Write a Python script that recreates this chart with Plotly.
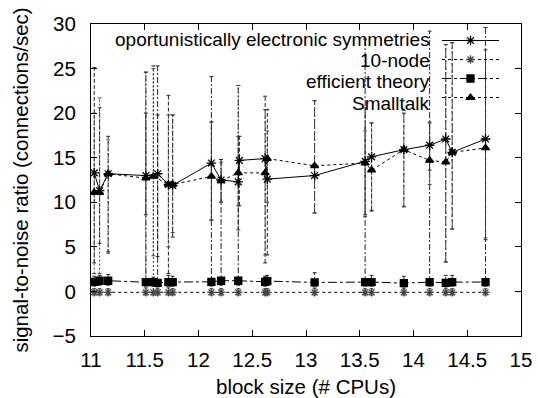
import plotly.graph_objects as go

# ---------------- data ----------------
series_names = ["oportunistically electronic symmetries", "10-node", "efficient theory", "Smalltalk"]

# series 1 (solid)
x1 = [11.03, 11.08, 11.16, 11.51, 11.62, 11.72, 11.76, 12.12, 12.21, 12.37, 12.38, 12.62, 12.64,
      13.08, 13.55, 13.61, 13.91, 14.15, 14.30, 14.36, 14.67]
y1 = [13.3, 11.3, 13.2, 13.0, 13.2, 12.0, 11.9, 14.4, 12.5, 12.3, 14.7, 14.9, 12.6,
      13.0, 14.6, 15.1, 15.9, 16.4, 17.1, 15.6, 17.1]
lo1 = [3.2, 5.4, 4.3, 8.6, 3.9, 2.0, 6.1, 8.0, 10.0, 6.9, 9.6, 3.2, 4.1,
       8.8, 8.6, 9.1, 9.5, 13.6, 3.3, 7.0, 5.8]
hi1 = [25.1, 20.6, 17.4, 20.0, 19.8, 22.0, 19.8, 19.0, 14.8, 17.4, 17.4, 21.9, 20.4,
       21.4, 20.6, 18.9, 20.0, 18.9, 27.7, 27.9, 27.1]

# shared x for the two low series
x_low = [11.03, 11.08, 11.16, 11.51, 11.58, 11.62, 11.72, 11.76, 12.12, 12.21, 12.37, 12.62, 12.64,
         13.08, 13.55, 13.61, 13.91, 14.15, 14.30, 14.36, 14.67]

# series 2 (dotted, around 0)
y2 = [-0.1, -0.1, -0.1, -0.1, -0.1, -0.1, -0.1, -0.1, -0.1, -0.1, -0.1, -0.1, -0.1,
      -0.1, -0.1, -0.1, -0.1, -0.1, -0.1, -0.1, -0.1]
lo2 = [-0.4] * 21
hi2 = [0.3, 0.3, 0.3, 0.4, 25.3, 0.3, 0.4, 0.3, 0.3, 0.3, 0.3, 0.3, 0.3,
       0.3, 0.3, 0.3, 0.3, 0.3, 0.3, 0.3, 0.3]

# series 3 (dash-dot, around 1)
y3 = [1.08, 1.2, 1.2, 1.05, 1.05, 0.97, 1.05, 1.05, 1.08, 1.2, 1.2, 1.08, 1.16,
      1.01, 1.05, 1.05, 0.93, 1.05, 0.97, 1.05, 1.05]
lo3 = [0.6, 0.7, 0.7, 0.6, 0.6, 0.5, 0.6, 0.6, 0.6, 0.7, 0.7, 0.6, 0.7,
       0.5, 0.6, 0.6, 0.5, 0.6, 0.5, 0.6, 0.6]
hi3 = [1.7, 1.8, 1.9, 24.6, 1.6, 25.3, 1.8, 1.7, 24.1, 14.8, 23.1, 1.7, 1.8,
       2.1, 28.3, 1.8, 1.7, 29.2, 1.8, 1.8, 29.6]

# series 4 (dotted, upper)
x4 = [11.03, 11.08, 11.16, 11.51, 11.58, 11.72, 11.76, 12.12, 12.21, 12.37, 12.62, 12.64,
      13.08, 13.55, 13.61, 13.91, 14.15, 14.30, 14.36, 14.67]
y4 = [11.1, 11.1, 13.2, 12.7, 12.9, 12.0, 12.0, 12.9, 12.4, 13.3, 13.3, 14.9,
      14.1, 14.4, 13.6, 15.9, 14.7, 14.5, 15.6, 16.1]
lo4 = [2.0, 2.0, 4.5, 1.2, 4.0, 5.0, 6.6, 8.0, 10.0, 9.6, 4.1, 10.0,
       8.8, 8.4, 9.0, 9.5, 12.0, 3.3, 7.0, 6.0]
hi4 = [20.0, 21.7, 17.0, 24.6, 25.0, 19.8, 19.8, 19.0, 14.5, 23.1, 20.4, 18.0,
       21.4, 18.0, 18.9, 20.3, 19.0, 27.7, 27.9, 29.6]

x_ticks = [11, 11.5, 12, 12.5, 13, 13.5, 14, 14.5, 15]
x_tick_labels = ["11", "11.5", "12", "12.5", "13", "13.5", "14", "14.5", "15"]
y_ticks = [-5, 0, 5, 10, 15, 20, 25, 30]

FONT = "Liberation Sans, Arial, Helvetica, sans-serif"
FS = 20.5
LEG_FS = 19
CAP = 0.018  # half-width of error-bar caps, in x units

styles = [
    dict(dash="solid", symbol="asterisk-open", msize=8, mcolor="black",
         edash="4px,2px", ecolor="#222"),
    dict(dash="dot", symbol="asterisk-open", msize=7, mcolor="#444",
         edash="2px,2px", ecolor="#333"),
    dict(dash="dashdot", symbol="square", msize=7, mcolor="black",
         edash="6px,2px,2px,2px", ecolor="#222"),
    dict(dash="dot", symbol="triangle-up", msize=7, mcolor="black",
         edash="2px,2px", ecolor="#444"),
]
data = [(x1, y1, lo1, hi1), (x_low, y2, lo2, hi2), (x_low, y3, lo3, hi3), (x4, y4, lo4, hi4)]

fig = go.Figure()

# error bars (dashed, like the original)
for name, st, (xs, ys, lo, hi) in zip(series_names, styles, data):
    bx, by, cx, cy = [], [], [], []
    for x, l, h in zip(xs, lo, hi):
        bx += [x, x, None]
        by += [l, h, None]
        cx += [x - CAP, x + CAP, None, x - CAP, x + CAP, None]
        cy += [l, l, None, h, h, None]
    fig.add_trace(go.Scatter(x=bx, y=by, mode="lines", showlegend=False, hoverinfo="skip",
                             line=dict(color=st["ecolor"], width=1, dash=st["edash"])))
    fig.add_trace(go.Scatter(x=cx, y=cy, mode="lines", showlegend=False, hoverinfo="skip",
                             line=dict(color=st["ecolor"], width=1)))

for name, st, (xs, ys, lo, hi) in zip(series_names, styles, data):
    fig.add_trace(go.Scatter(
        x=xs, y=ys, name=name, mode="lines+markers", showlegend=False,
        line=dict(color="black", width=1, dash=st["dash"]),
        marker=dict(symbol=st["symbol"], size=st["msize"], color=st["mcolor"],
                    line=dict(color=st["mcolor"], width=1.3)),
    ))

# legend samples (text drawn right-aligned beside them, as in the original)
for name, st in zip(series_names, styles):
    fig.add_trace(go.Scatter(
        x=[None], y=[None], name=" ", mode="lines+markers", showlegend=True,
        line=dict(color="black", width=1, dash=st["dash"]),
        marker=dict(symbol=st["symbol"], size=st["msize"], color=st["mcolor"],
                    line=dict(color=st["mcolor"], width=1.3)),
    ))

L, R, T, B = 91, 17, 24, 62
W, H = 538, 398
pw, ph = W - L - R, H - T - B
leg_rows = [39, 60.4, 81.8, 103.2]
for name, py in zip(series_names, leg_rows):
    fig.add_annotation(
        x=(431 - L) / pw, y=(H - B - py) / ph, xref="paper", yref="paper",
        text=name, showarrow=False, xanchor="right", yanchor="middle", borderpad=0,
        font=dict(family=FONT, size=LEG_FS, color="black"),
    )

axis_common = dict(showline=True, linecolor="black", linewidth=1, mirror="ticks",
                   ticks="inside", ticklen=6, tickcolor="black", showgrid=False,
                   zeroline=False, automargin=False,
                   tickfont=dict(family=FONT, size=FS, color="black"))

fig.update_layout(
    width=W, height=H, margin=dict(l=L, r=R, t=T, b=B),
    paper_bgcolor="white", plot_bgcolor="white",
    font=dict(family=FONT, size=FS, color="black"),
    xaxis=dict(range=[11, 15], tickvals=x_ticks, ticktext=x_tick_labels,
               ticklabelstandoff=5,
               title=dict(text="block size (# CPUs)", standoff=11,
                          font=dict(family=FONT, size=FS)),
               **axis_common),
    yaxis=dict(range=[-5, 30], tickvals=y_ticks, ticklabelstandoff=10,
               title=dict(text="signal-to-noise ratio (connections/sec)", standoff=18,
                          font=dict(family=FONT, size=FS)),
               **axis_common),
    legend=dict(x=(437 - L) / pw, y=(H - B - 26) / ph, xanchor="left", yanchor="top",
                bgcolor="rgba(0,0,0,0)", borderwidth=0, tracegroupgap=0,
                font=dict(family=FONT, size=12), itemwidth=57),
    showlegend=True,
)

fig.write_html("out.html")
